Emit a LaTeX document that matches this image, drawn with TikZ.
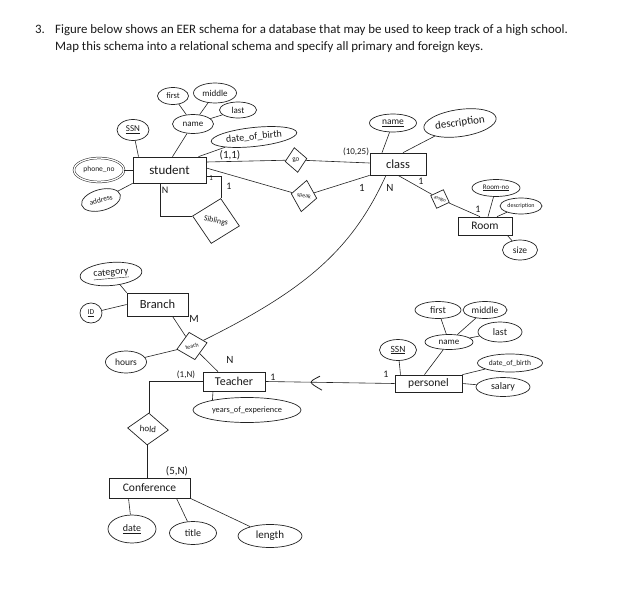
\documentclass[tikz,border=0pt]{standalone}
\usepackage{fontspec}
\setmainfont{Carlito}
\usetikzlibrary{arrows.meta, positioning, shapes.geometric, calc}
\definecolor{inkDark}{HTML}{222222}
\definecolor{textDark}{HTML}{1A1A1A}
\newcommand{\fs}[1]{\fontsize{#1}{#1}\selectfont}

\begin{document}
\begin{tikzpicture}[x=1pt, y=-1pt,
    ent/.style={rectangle, draw=inkDark, line width=0.7pt, inner sep=1pt,
      font=\fs{11}, text=textDark},
    att/.style={ellipse, draw=inkDark, line width=0.7pt, inner sep=0pt,
      font=\fs{9}, text=textDark},
    multi/.style={att, double=white, double distance=1.3pt, line width=0.5pt},
    rel/.style={diamond, draw=inkDark, line width=0.7pt, inner sep=0pt,
      font=\fs{7}, text=textDark},
    ln/.style={draw=inkDark, line width=0.6pt},
    lb/.style={font=\fs{10}, text=textDark, inner sep=1pt},
    qtxt/.style={anchor=base west, font=\fs{12.85}, text=textDark, inner sep=0pt}]
    \useasboundingbox (0,0) rectangle (642,607);
    % question
    \node[qtxt] (qnum) at (35,34) {3.};
    \node[qtxt] (qline1) at (55,34) {Figure below shows an EER schema for a database that may be used to keep track of a high school.};
    \node[qtxt] (qline2) at (55,51) {Map this schema into a relational schema and specify all primary and foreign keys.};
    % student
    \node[ent, minimum width=73, minimum height=26, font=\fs{13}] (student) at (169.5,170) {student};
    \node[att, minimum width=32, minimum height=21] (sssn) at (133,130) {\underline{SSN}};
    \node[att, minimum width=41, minimum height=19] (sname) at (193,124) {name};
    \node[att, minimum width=31, minimum height=17, font=\fs{8.5}] (sfirst) at (173,96) {first};
    \node[att, minimum width=43, minimum height=20] (smiddle) at (215,93) {middle};
    \node[att, minimum width=37, minimum height=16] (slast) at (238,110) {last};
    \node[att, minimum width=86, minimum height=19, rotate=6, font=\fs{10}] (sdob) at (254,137) {date\_of\_birth};
    \node[multi, minimum width=50, minimum height=24, font=\fs{7.5}] (sphone) at (99,170) {phone\_no};
    \node[att, minimum width=40, minimum height=21, rotate=15, font=\fs{7.5}] (saddr) at (101,200) {address};
    \node[rel, minimum width=48, minimum height=46, rotate=-12, font=\fs{8}] (sib) at (216,221) {Siblings};
    \draw[ln] ([xshift=-31pt]student.north) -- (sssn);
    \draw[ln] ([xshift=3pt]student.north) -- (sname);
    \draw[ln] (sname) -- (sfirst);
    \draw[ln] (sname) -- (smiddle);
    \draw[ln] (sname) -- (slast);
    \draw[ln] ([xshift=29pt]student.north) -- (sdob);
    \draw[ln] (sphone) -- (student);
    \draw[ln] (saddr) -- (student.south west);
    \draw[ln] ([xshift=-9pt]student.south) |- (sib.west);
    \draw[ln] ([yshift=-6pt]student.east) -| (sib.north);
    \node[lb] (lsibn) at (165,190) {N};
    \node[lb, font=\fs{7.5}] (lsib1) at (211,178) {1};
    \node[lb] (lsib2) at (229,186) {1};
    % class and room
    \node[ent, minimum width=56, minimum height=22, font=\fs{12.5}] (class) at (398,164) {class};
    \node[att, minimum width=47, minimum height=18, font=\fs{9.5}] (cname) at (393,123) {\underline{name}};
    \node[att, minimum width=73, minimum height=27, rotate=8, font=\fs{11}] (cdesc) at (460,123) {description};
    \node[rel, minimum width=22, minimum height=25, rotate=8] (go) at (296,160) {go};
    \node[rel, minimum width=26, minimum height=32, rotate=-10, font=\fs{6}] (speak) at (304,196) {speak};
    \node[rel, minimum size=20, rotate=-20, font=\fs{5}] (assign) at (440,199) {assign};
    \node[ent, minimum width=54, minimum height=18, font=\fs{11.5}] (room) at (485,226) {Room};
    \node[att, minimum width=48, minimum height=17, font=\fs{7}] (rno) at (496,188) {\underline{Room-no}};
    \node[att, minimum width=42, minimum height=16, font=\fs{6}] (rdesc) at (521,206) {description};
    \node[att, minimum width=35, minimum height=20, font=\fs{9.5}] (rsize) at (520,250) {size};
    \draw[ln] ([xshift=-16pt]class.north) -- (cname);
    \draw[ln] ([xshift=5pt]class.north) -- (cdesc);
    \draw[ln] ([yshift=8pt]student.east) -- (go);
    \draw[ln] (go) -- ([yshift=1pt]class.west);
    \draw[ln] ([yshift=2pt]student.east) -- (speak);
    \draw[ln] (speak) -- (class.south west);
    \draw[ln] (class.south) -- (assign);
    \draw[ln] (assign) -- ([xshift=-5pt]room.north);
    \draw[ln] ([xshift=3pt]room.north) -- (rno);
    \draw[ln] ([xshift=12pt]room.north) -- (rdesc);
    \draw[ln] ([xshift=-5pt]room.south east) -- (rsize);
    \node[lb, font=\fs{11}] (lgo1) at (230,155) {(1,1)};
    \node[lb, font=\fs{9}] (lgo2) at (356,152) {(10,25)};
    \node[lb, font=\fs{11}] (lsp) at (362,188) {1};
    \node[lb, font=\fs{11}] (lcn) at (390,188) {N};
    \node[lb] (las1) at (421,181) {1};
    \node[lb] (las2) at (478,209) {1};
    % branch and teacher
    \node[ent, minimum width=61, minimum height=23, font=\fs{12.5}] (branch) at (157.5,304.5) {Branch};
    \node[att, minimum width=62, minimum height=23, rotate=5, font=\fs{10}] (cat) at (111,274) {\underline{category}};
    \node[att, minimum width=22, minimum height=20, font=\fs{7.5}] (bid) at (91,313) {\underline{ID}};
    \node[rel, minimum width=31, minimum height=28, rotate=12, font=\fs{6}] (teach) at (192,346) {teach};
    \node[att, minimum width=41, minimum height=22, font=\fs{9.5}] (hours) at (126,362) {hours};
    \node[ent, minimum width=62, minimum height=19, font=\fs{12}] (teacher) at (234,381.5) {Teacher};
    \node[att, minimum width=108, minimum height=25, font=\fs{8.3}] (years) at (247,410) {years\_of\_experience};
    \draw[ln] (cat) -- (branch.north west);
    \draw[ln] (bid) -- (branch.west);
    \draw[ln] ([xshift=15pt]branch.south) -- (teach);
    \draw[ln] (hours) -- (teach);
    \draw[ln] (teach) -- ([xshift=-16pt]teacher.north);
    \draw[ln] ([xshift=-12pt]class.south) .. controls (352,250) and (305,290) .. (teach);
    \draw[ln] ([xshift=-21pt]teacher.south) -- (years.164);
    \node[lb, font=\fs{11}] (lbm) at (194,319) {M};
    \node[lb, font=\fs{11}] (lbn) at (230,360) {N};
    \node[lb, font=\fs{9}] (lt1) at (186,375) {(1,N)};
    % personel
    \node[ent, minimum width=67, minimum height=17, font=\fs{11.5}] (personel) at (428.5,383.5) {personel};
    \node[att, minimum width=37, minimum height=21, font=\fs{9.5}] (pssn) at (398,350) {\underline{SSN}};
    \node[att, minimum width=48, minimum height=15] (pname) at (449,342) {name};
    \node[att, minimum width=46, minimum height=17, font=\fs{10}] (pfirst) at (438,310) {first};
    \node[att, minimum width=44, minimum height=17, font=\fs{9.5}] (pmiddle) at (485,310) {middle};
    \node[att, minimum width=44, minimum height=20, font=\fs{10}] (plast) at (500,332) {last};
    \node[att, minimum width=65, minimum height=18, font=\fs{7.5}] (pdob) at (510,363) {date\_of\_birth};
    \node[att, minimum width=54, minimum height=19, font=\fs{10}] (psalary) at (503,387) {salary};
    \draw[ln] ([xshift=-28pt]personel.north) -- (pssn);
    \draw[ln] ([xshift=-4pt]personel.north) -- (pname);
    \draw[ln] (pname) -- (pfirst);
    \draw[ln] (pname) -- (pmiddle);
    \draw[ln] (pname) -- (plast);
    \draw[ln] (personel.north east) -- (pdob);
    \draw[ln] (personel.east) -- (psalary);
    \draw[ln] (teacher.east) -- (personel.west);
    \coordinate (sub) at ($(teacher.east)!0.33!(personel.west)$);
    \draw[ln, line width=0.8pt] ([shift={(12,-6)}]sub) .. controls (sub) .. ([shift={(14,8)}]sub);
    \node[lb] (ltp1) at (273,377) {1};
    \node[lb] (ltp2) at (386,374) {1};
    % conference
    \node[rel, minimum width=41, minimum height=32, rotate=-3, font=\fs{9}] (hold) at (148,429) {hold};
    \node[ent, minimum width=81, minimum height=20, font=\fs{11.5}] (conf) at (149.5,488) {Conference};
    \node[att, minimum width=48, minimum height=28, font=\fs{10}] (cdate) at (132,529) {\underline{date}};
    \node[att, minimum width=47, minimum height=23, font=\fs{10}] (ctitle) at (193,533) {title};
    \node[att, minimum width=64, minimum height=23, font=\fs{11}] (clength) at (270,536) {length};
    \draw[ln] (teacher.west) -| (hold.north);
    \draw[ln] (hold.south) -- (hold.south |- conf.north);
    \draw[ln] ([xshift=-21pt]conf.south) -- (cdate);
    \draw[ln] ([xshift=27pt]conf.south) -- (ctitle);
    \draw[ln] (conf.south east) -- (clength);
    \node[lb, font=\fs{11}] (lc1) at (177,471) {(5,N)};
  \end{tikzpicture}
\end{document}
